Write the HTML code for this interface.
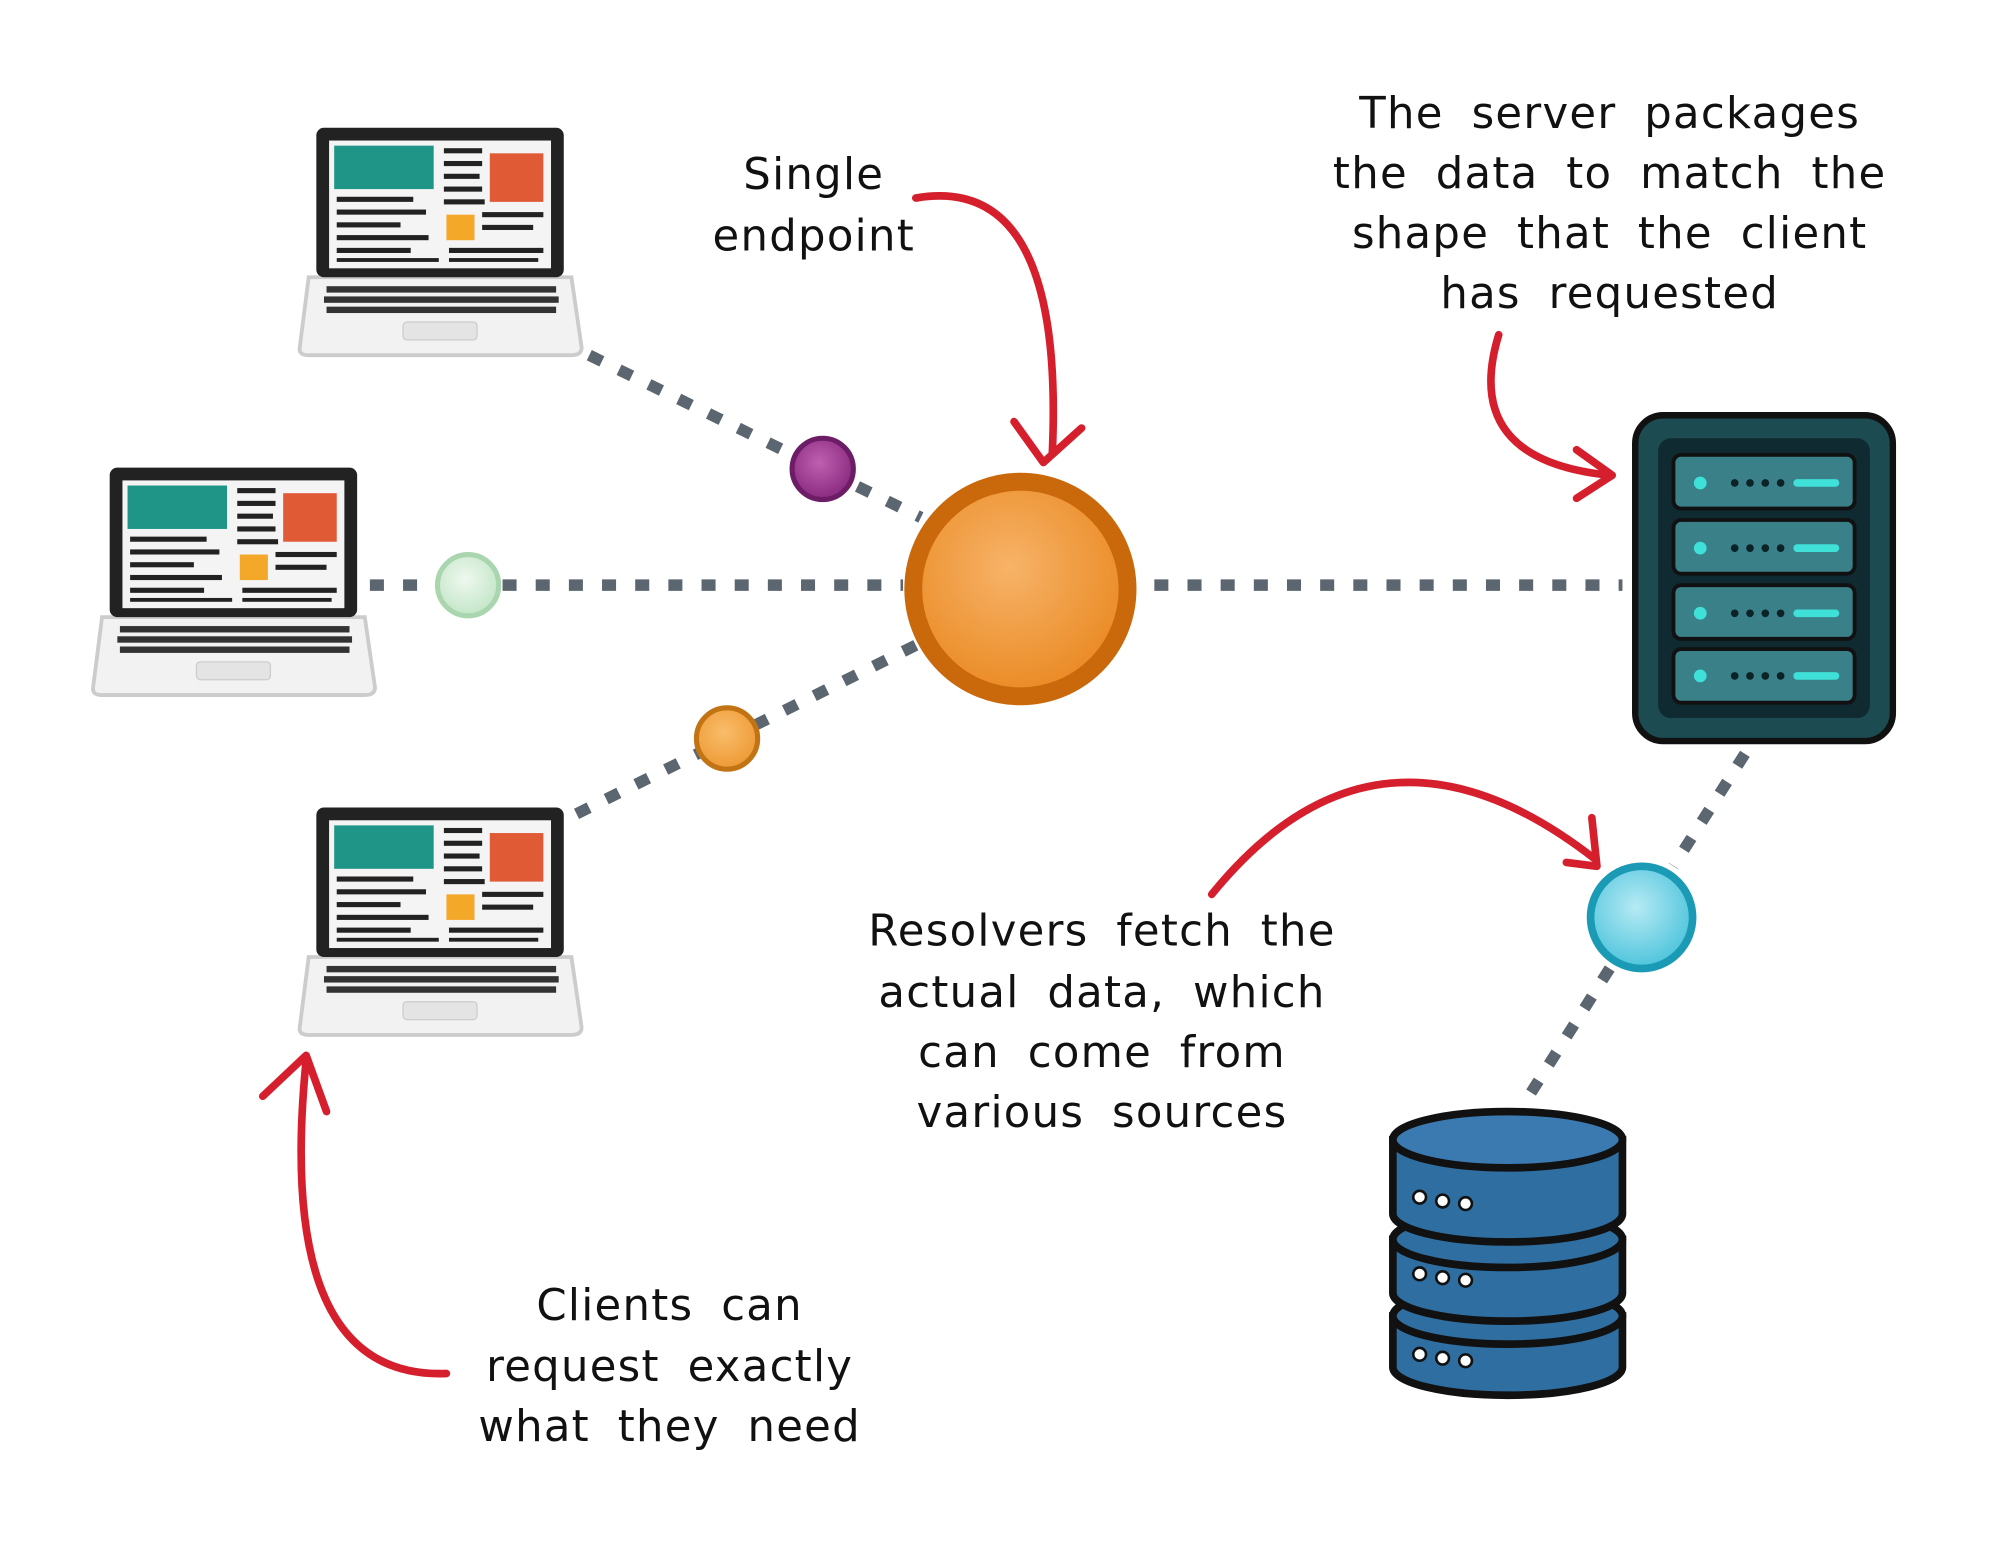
<!DOCTYPE html>
<html><head><meta charset="utf-8"><style>
html,body{margin:0;padding:0;background:#fff;}
svg{display:block}
text{font-family:"DejaVu Sans","Liberation Sans",sans-serif;font-size:34px;fill:#111;word-spacing:10px;letter-spacing:1px}
</style></head><body>
<svg width="2000" height="1546" viewBox="0 0 1568 1210" preserveAspectRatio="none" xmlns="http://www.w3.org/2000/svg">
<defs>
<radialGradient id="og" cx="45%" cy="40%" r="60%"><stop offset="0" stop-color="#f7b368"/><stop offset="1" stop-color="#ea8a24"/></radialGradient>
<radialGradient id="cg" cx="45%" cy="40%" r="60%"><stop offset="0" stop-color="#b6eaf4"/><stop offset="1" stop-color="#4ec4dc"/></radialGradient>
<radialGradient id="pg" cx="45%" cy="40%" r="60%"><stop offset="0" stop-color="#c060b0"/><stop offset="1" stop-color="#8a2a80"/></radialGradient>
<radialGradient id="gg" cx="45%" cy="40%" r="60%"><stop offset="0" stop-color="#eef8ee"/><stop offset="1" stop-color="#c4e6c8"/></radialGradient>
<radialGradient id="sg" cx="45%" cy="40%" r="60%"><stop offset="0" stop-color="#f9bd6a"/><stop offset="1" stop-color="#ee9a36"/></radialGradient>
<g id="lap">
<path d="M-6 117 L200 117 L208 172 Q208 178 200 178 L-6 178 Q-14 178 -13 172 Z" fill="#f2f2f2" stroke="#ccc" stroke-width="3"/>
<rect x="68" y="152" width="58" height="14" rx="3" fill="#e4e4e4" stroke="#ccc"/>
<g fill="#333"><rect x="8" y="124" width="180" height="5"/><rect x="6" y="132" width="184" height="5"/><rect x="8" y="140" width="180" height="5"/></g>
<rect x="0" y="0" width="194" height="117" rx="6" fill="#222"/>
<rect x="10" y="10" width="174" height="100" fill="#f4f4f4"/>
<rect x="14" y="14" width="78" height="34" fill="#1f9588"/>
<rect x="136" y="20" width="42" height="38" fill="#e05a36"/>
<rect x="102" y="68" width="22" height="20" fill="#f4a82a"/>
<g fill="#222"><rect x="100" y="16" width="30" height="4"/><rect x="100" y="26" width="30" height="4"/><rect x="100" y="36" width="28" height="4"/><rect x="100" y="46" width="30" height="4"/><rect x="100" y="56" width="32" height="4"/>
<rect x="16" y="54" width="60" height="4"/><rect x="16" y="64" width="70" height="4"/><rect x="16" y="74" width="50" height="4"/><rect x="16" y="84" width="72" height="4"/><rect x="16" y="94" width="58" height="4"/><rect x="16" y="102" width="80" height="3"/>
<rect x="130" y="66" width="48" height="4"/><rect x="130" y="76" width="40" height="4"/><rect x="104" y="94" width="74" height="4"/><rect x="104" y="102" width="70" height="3"/></g>
</g>
</defs>
<g stroke="#5c6670" stroke-width="9" stroke-dasharray="11 15" fill="none">
<line x1="462" y1="278" x2="722" y2="405"/>
<line x1="290" y1="458" x2="708" y2="458"/>
<line x1="452" y1="637" x2="718" y2="505"/>
<line x1="905" y1="458" x2="1272" y2="458"/>
<line x1="1368" y1="590" x2="1312" y2="678"/>
<line x1="1262" y1="758" x2="1196" y2="862"/>
</g>
<use href="#lap" x="248" y="100"/>
<use href="#lap" x="86" y="366"/>
<use href="#lap" x="248" y="632"/>
<circle cx="800" cy="461" r="84" fill="url(#og)" stroke="#c9690c" stroke-width="14"/>
<circle cx="645" cy="367" r="24" fill="url(#pg)" stroke="#6d1c66" stroke-width="4"/>
<circle cx="367" cy="458" r="24" fill="url(#gg)" stroke="#a9d6ae" stroke-width="4"/>
<circle cx="570" cy="578" r="24" fill="url(#sg)" stroke="#c27415" stroke-width="4"/>
<circle cx="1287" cy="718" r="40" fill="url(#cg)" stroke="#1a9ab4" stroke-width="6"/>
<rect x="1282" y="325" width="202" height="255" rx="22" fill="#1c4b52" stroke="#111" stroke-width="5"/>
<rect x="1300" y="343" width="166" height="219" rx="10" fill="#0f2a30"/>
<g>
<rect x="1312" y="356" width="142" height="42" rx="6" fill="#3a8088" stroke="#111" stroke-width="3"/>
<rect x="1312" y="407" width="142" height="42" rx="6" fill="#3a8088" stroke="#111" stroke-width="3"/>
<rect x="1312" y="458" width="142" height="42" rx="6" fill="#3a8088" stroke="#111" stroke-width="3"/>
<rect x="1312" y="508" width="142" height="42" rx="6" fill="#3a8088" stroke="#111" stroke-width="3"/>
</g>
<g fill="#3ee0d8">
<circle cx="1333" cy="378" r="5"/><circle cx="1333" cy="429" r="5"/><circle cx="1333" cy="480" r="5"/><circle cx="1333" cy="529" r="5"/>
<rect x="1406" y="375" width="36" height="6" rx="3"/><rect x="1406" y="426" width="36" height="6" rx="3"/><rect x="1406" y="477" width="36" height="6" rx="3"/><rect x="1406" y="526" width="36" height="6" rx="3"/>
</g>
<g fill="#0b2226"><circle cx="1360" cy="378" r="3"/><circle cx="1372" cy="378" r="3"/><circle cx="1384" cy="378" r="3"/><circle cx="1396" cy="378" r="3"/>
<circle cx="1360" cy="429" r="3"/><circle cx="1372" cy="429" r="3"/><circle cx="1384" cy="429" r="3"/><circle cx="1396" cy="429" r="3"/>
<circle cx="1360" cy="480" r="3"/><circle cx="1372" cy="480" r="3"/><circle cx="1384" cy="480" r="3"/><circle cx="1396" cy="480" r="3"/>
<circle cx="1360" cy="529" r="3"/><circle cx="1372" cy="529" r="3"/><circle cx="1384" cy="529" r="3"/><circle cx="1396" cy="529" r="3"/></g>
<g stroke="#111" stroke-width="6" fill="#2f6ea0">
<path d="M1092 1030 L1092 1070 A90 22 0 0 0 1272 1070 L1272 1030 Z"/>
<ellipse cx="1182" cy="1030" rx="90" ry="22"/>
<path d="M1092 970 L1092 1012 A90 22 0 0 0 1272 1012 L1272 970 Z"/>
<ellipse cx="1182" cy="970" rx="90" ry="22"/>
<path d="M1092 892 L1092 950 A90 22 0 0 0 1272 950 L1272 892 Z"/>
<ellipse cx="1182" cy="892" rx="90" ry="22" fill="#3a7ab0"/>
</g>
<g fill="#fff" stroke="#111" stroke-width="2">
<circle cx="1113" cy="937" r="5"/><circle cx="1131" cy="940" r="5"/><circle cx="1149" cy="942" r="5"/>
<circle cx="1113" cy="997" r="5"/><circle cx="1131" cy="1000" r="5"/><circle cx="1149" cy="1002" r="5"/>
<circle cx="1113" cy="1060" r="5"/><circle cx="1131" cy="1063" r="5"/><circle cx="1149" cy="1065" r="5"/>
</g>
<g stroke="#d61f2c" stroke-width="6" fill="none" stroke-linecap="round" stroke-linejoin="round">
<path d="M718 155 Q835 135 825 355"/><path d="M795 330 L818 362 L848 335"/>
<path d="M1175 262 Q1145 360 1262 372"/><path d="M1236 352 L1264 372 L1236 390"/>
<path d="M950 700 Q1080 540 1250 672"/><path d="M1228 675 L1252 678 L1248 640"/>
<path d="M350 1075 Q215 1080 240 830"/><path d="M206 858 L240 826 L256 870"/>
</g>
<text x="638" y="148" text-anchor="middle">Single</text>
<text x="638" y="196" text-anchor="middle">endpoint</text>
<text x="1262" y="100" text-anchor="middle">The server packages</text>
<text x="1262" y="147" text-anchor="middle">the data to match the</text>
<text x="1262" y="194" text-anchor="middle">shape that the client</text>
<text x="1262" y="241" text-anchor="middle">has requested</text>
<text x="864" y="740" text-anchor="middle">Resolvers fetch the</text>
<text x="864" y="788" text-anchor="middle">actual data, which</text>
<text x="864" y="835" text-anchor="middle">can come from</text>
<text x="864" y="882" text-anchor="middle">various sources</text>
<text x="525" y="1033" text-anchor="middle">Clients can</text>
<text x="525" y="1081" text-anchor="middle">request exactly</text>
<text x="525" y="1128" text-anchor="middle">what they need</text>
</svg>
</body></html>
